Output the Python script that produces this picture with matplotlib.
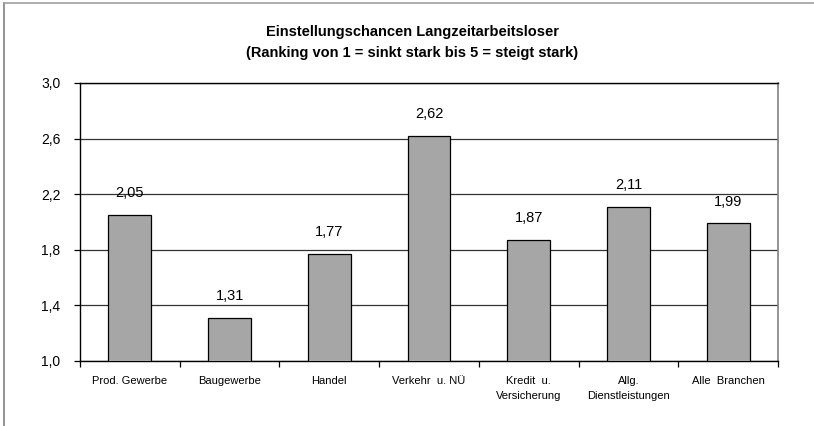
import matplotlib
matplotlib.use("Agg")
import matplotlib.pyplot as plt
from matplotlib.lines import Line2D

categories = ["Prod. Gewerbe", "Baugewerbe", "Handel", "Verkehr  u. NÜ",
              "Kredit  u.\nVersicherung", "Allg.\nDienstleistungen", "Alle  Branchen"]
values = [2.05, 1.31, 1.77, 2.62, 1.87, 2.11, 1.99]
value_labels = ["2,05", "1,31", "1,77", "2,62", "1,87", "2,11", "1,99"]
yticks = [1.0, 1.4, 1.8, 2.2, 2.6, 3.0]
ytick_labels = ["1,0", "1,4", "1,8", "2,2", "2,6", "3,0"]
title = "Einstellungschancen Langzeitarbeitsloser\n(Ranking von 1 = sinkt stark bis 5 = steigt stark)"

plt.rcParams['font.family'] = ['Liberation Sans', 'DejaVu Sans']

W, H = 814, 426
fig = plt.figure(figsize=(W/100, H/100), dpi=100)
ax = fig.add_axes([80/W, 1-361/H, (778-80)/W, (361-83)/H])

n = len(categories)
x = list(range(n))
ax.bar(x, values, width=0.43, bottom=0, color="#a6a6a6", edgecolor="black", linewidth=0.9, zorder=3)
ax.set_xlim(-0.5, n-0.5)
ax.set_ylim(1.0, 3.0)

for xi, v, lab in zip(x, values, value_labels):
    ax.annotate(lab, (xi, v), xytext=(0, 10.5), textcoords="offset points",
                ha="center", va="bottom", fontsize=10.5, zorder=4)

ax.set_yticks(yticks)
ax.set_yticklabels(ytick_labels, fontsize=10)
ax.yaxis.grid(True, color="#333333", linewidth=0.9, zorder=0)
ax.set_xticks([i - 0.5 for i in range(n+1)], minor=False)
ax.set_xticklabels([])
ax.set_xticks(x, minor=True)
ax.set_xticklabels(categories, minor=True, fontsize=8, linespacing=1.6)
ax.tick_params(axis="x", which="major", direction="out", length=4, width=0.9)
ax.tick_params(axis="x", which="minor", length=0, pad=11)
ax.tick_params(axis="y", direction="out", length=4, width=0.9, pad=10)

for s in ["left", "bottom", "top"]:
    ax.spines[s].set_color("black")
    ax.spines[s].set_linewidth(1.0)
ax.spines["right"].set_color("#808080")
ax.spines["right"].set_linewidth(1.2)

fig.text(412/W, 1-42.5/H, title, ha="center", va="center", fontsize=10.5,
         fontweight="bold", linespacing=1.65)

# outer chart border (visible left and top)
fig.add_artist(Line2D([4/W, 4/W], [0, 1-3/H], transform=fig.transFigure, color="#808080", linewidth=1.2))
fig.add_artist(Line2D([4/W, 1], [1-3/H, 1-3/H], transform=fig.transFigure, color="#a0a0a0", linewidth=1.2))

fig.savefig("out.png", dpi=100)
